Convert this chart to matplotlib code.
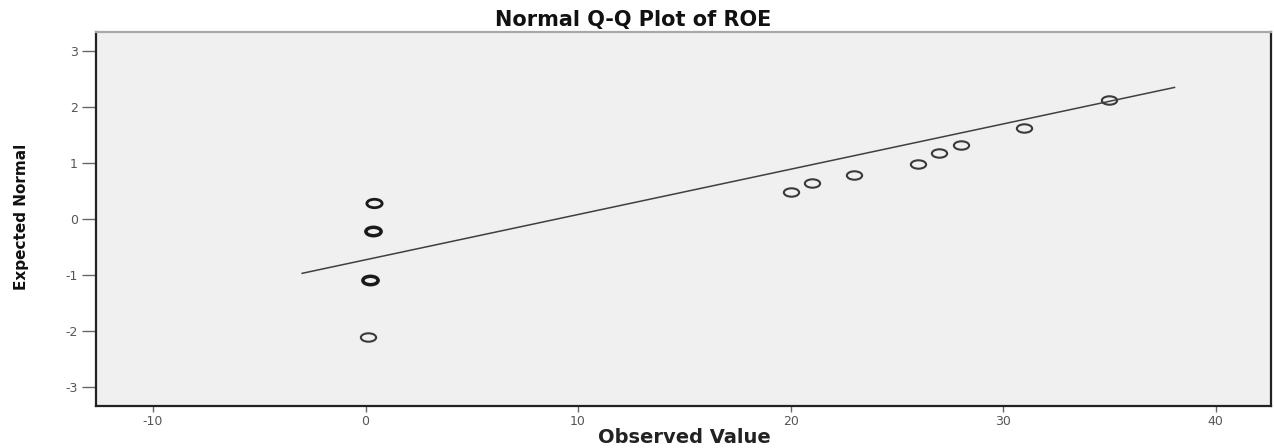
import matplotlib
matplotlib.use("Agg")
import matplotlib.pyplot as plt
import numpy as np
from matplotlib.path import Path
from matplotlib.transforms import Affine2D

plt.rcParams["axes.unicode_minus"] = False

# Data
observed = [0.11, 0.22, 0.35, 0.42, 20.0, 21.0, 23.0, 26.0, 27.0, 28.0, 31.0, 35.0]
expected = [-2.11, -1.09, -0.21, 0.28, 0.48, 0.65, 0.79, 0.98, 1.18, 1.32, 1.63, 2.12]
tie_counts = [1, 3, 3, 2, 1, 1, 1, 1, 1, 1, 1, 1]
line_x = [-2.98, 38.06]
line_y = [-0.97, 2.35]
x_ticks = [-10, 0, 10, 20, 30, 40]
y_ticks = [-3, -2, -1, 0, 1, 2, 3]

W, H = 1274, 448
fig = plt.figure(figsize=(W / 100, H / 100), dpi=100)
fig.patch.set_facecolor("white")
ax = fig.add_axes([96 / W, 1 - 406 / H, (1271 - 96) / W, (406 - 32) / H])
ax.set_facecolor("#f0f0f0")

ax.set_xlim(-12.68, 42.6)
ax.set_ylim(-3.34, 3.34)

ax.plot(line_x, line_y, color="#404040", lw=1.1, zorder=2)

ell = Path.unit_circle().transformed(Affine2D().scale(1.0, 0.55))
for xo, ye, c in zip(observed, expected, tie_counts):
    ax.plot([xo], [ye], marker=ell, ms=11, mfc="none",
            mec="#1a1a1a" if c > 1 else "#3a3a3a",
            mew=1.5 + 0.5 * (c - 1), ls="none", zorder=3)

ax.set_xticks(x_ticks)
ax.set_yticks(y_ticks)
ax.tick_params(axis="both", direction="out", width=1.0,
               color="#666666", labelsize=9, labelcolor="#555555")
ax.tick_params(axis="y", length=10, pad=3)
ax.tick_params(axis="x", length=4.5, pad=2)

for side in ("left", "bottom", "right"):
    ax.spines[side].set_color("#222222")
    ax.spines[side].set_linewidth(1.6)
ax.spines["top"].set_color("#a8a8a8")
ax.spines["top"].set_linewidth(1.6)

fig.text(0.497, 1 - 20 / H, "Normal Q-Q Plot of ROE", ha="center", va="center",
         fontsize=15, fontweight="bold", family="DejaVu Sans", color="#111111")
fig.text(684 / W, 1 - 437 / H, "Observed Value", ha="center", va="center",
         fontsize=14, fontweight="bold", family="DejaVu Sans", color="#222222")
fig.text(22 / W, 1 - 217 / H, "Expected Normal", ha="center", va="center",
         rotation=90, fontsize=11, fontweight="bold", family="DejaVu Sans",
         color="#111111")

fig.savefig("out.png", dpi=100, facecolor="white")
